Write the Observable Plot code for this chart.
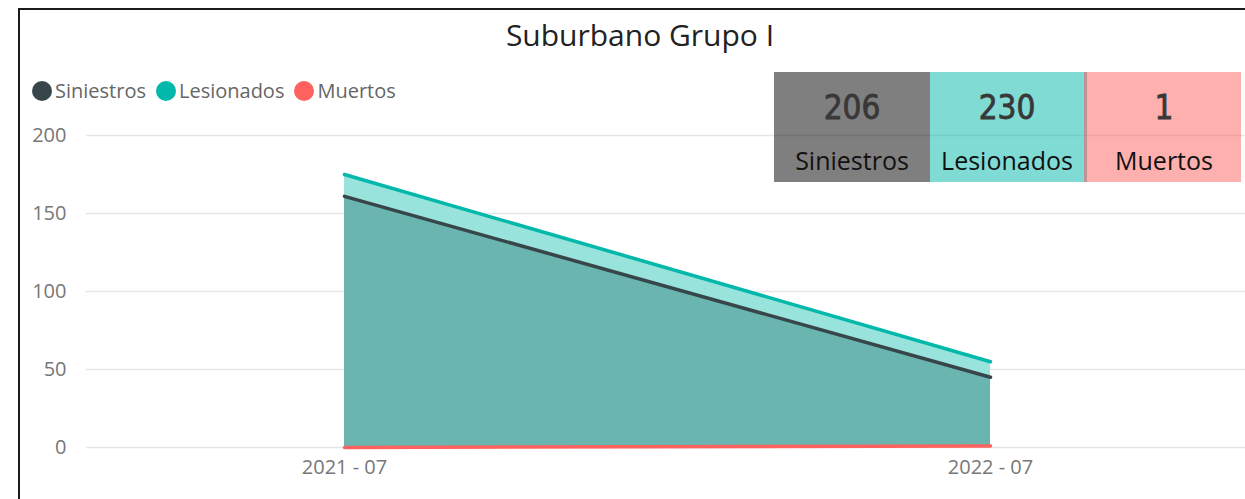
<!DOCTYPE html>
<html>
<head>
<meta charset="utf-8">
<script src="https://cdn.jsdelivr.net/npm/d3@7"></script>
<script src="https://cdn.jsdelivr.net/npm/@observablehq/plot@0.6"></script>
<style>
  html, body { margin: 0; padding: 0; background: #fff; overflow: hidden; }
  #wrap { position: relative; width: 1245px; height: 499px; overflow: hidden; font-family: "Open Sans", sans-serif; }
  #frame { position: absolute; left: 18px; top: 8px; width: 1400px; height: 700px; border: 2px solid #1a1a1a; box-sizing: border-box; }
  #title { position: absolute; left: 19px; width: 1242px; top: 14px; text-align: center; font-size: 30px; line-height: 42px; color: #222; }
  #legend { position: absolute; left: 32px; top: 77px; display: flex; align-items: center; font-size: 20px; color: #666; white-space: nowrap; }
  #legend .item { display: flex; align-items: center; margin-right: 10px; }
  #legend .dot { width: 20px; height: 20px; border-radius: 50%; margin-right: 3px; }
  #chart { position: absolute; left: 0; top: 115px; }
  #cards { position: absolute; left: 774px; top: 72px; display: flex; height: 110px; }
  .card { height: 110px; display: flex; flex-direction: column; align-items: center; }
  .card .num { font-family: "DejaVu Sans Condensed", sans-serif; font-weight: 400; font-size: 33px; color: #383838; -webkit-text-stroke: 0.8px #383838; margin-top: 16px; line-height: 40px; }
  .card .lab { font-size: 25px; color: #111; margin-top: 15px; line-height: 34px; }
</style>
</head>
<body>
<div id="wrap">
  <div id="frame"></div>
  <div id="title"></div>
  <div id="legend"></div>
  <div id="chart"></div>
  <div id="cards"></div>
</div>
<script>
const title = "Suburbano Grupo I";
const periods = ["2021 - 07", "2022 - 07"];
const siniestros = [161, 45];
const lesionados = [175, 55];
const muertos = [0, 1];
const seriesNames = ["Siniestros", "Lesionados", "Muertos"];
const seriesColors = ["#374649", "#01B8AA", "#FD625E"];
const cardColors = ["rgba(0,0,0,0.5)", "rgba(1,184,170,0.5)", "rgba(253,98,94,0.5)"];
const cardWidths = [156, 154, 154];
const yTicks = [0, 50, 100, 150, 200];

const rows = periods.map((p, i) => ({period: p, siniestros: siniestros[i], lesionados: lesionados[i], muertos: muertos[i]}));

document.getElementById("title").textContent = title;

const legend = document.getElementById("legend");
seriesNames.forEach((n, i) => {
  const it = document.createElement("div");
  it.className = "item";
  it.innerHTML = `<span class="dot" style="background:${seriesColors[i]}"></span><span>${n}</span>`;
  legend.appendChild(it);
});

const chart = Plot.plot({
  width: 1245,
  height: 384,
  marginLeft: 86,
  marginRight: 0,
  marginTop: 20,
  marginBottom: 52,
  x: {type: "point", domain: periods, range: [344, 990], padding: 0, label: null},
  y: {domain: [0, 200], label: null},
  style: {fontFamily: "Open Sans, sans-serif", fontSize: "20px", color: "#777", background: "transparent", overflow: "visible"},
  marks: [
    Plot.gridY(yTicks, {stroke: "#e6e6e6", strokeOpacity: 1, strokeWidth: 1.5}),
    Plot.areaY(rows, {x: "period", y: "lesionados", fill: "#99E3DD"}),
    Plot.areaY(rows, {x: "period", y: "siniestros", fill: "#6AB5B0"}),
    Plot.areaY(rows, {x: "period", y: "muertos", fill: "#FD625E", fillOpacity: 0.5}),
    Plot.lineY(rows, {x: "period", y: "lesionados", stroke: seriesColors[1], strokeWidth: 3.5}),
    Plot.lineY(rows, {x: "period", y: "siniestros", stroke: seriesColors[0], strokeWidth: 3.5}),
    Plot.lineY(rows, {x: "period", y: "muertos", stroke: seriesColors[2], strokeWidth: 3.5}),
    Plot.axisY(yTicks, {tickSize: 0, tickPadding: 20, fontSize: 20, fill: "#777"}),
    Plot.axisX({tickSize: 0, tickPadding: 12, fontSize: 20, fill: "#777"})
  ]
});
document.getElementById("chart").appendChild(chart);

const totals = [d3.sum(siniestros), d3.sum(lesionados), d3.sum(muertos)];
const cards = document.getElementById("cards");
seriesNames.forEach((n, i) => {
  const c = document.createElement("div");
  c.className = "card";
  c.style.background = cardColors[i];
  c.style.width = cardWidths[i] + "px";
  if (i === 2) { c.style.borderLeft = "3px solid rgba(150,130,128,0.6)"; }
  c.innerHTML = `<div class="num">${totals[i]}</div><div class="lab">${n}</div>`;
  cards.appendChild(c);
});
</script>
</body>
</html>
